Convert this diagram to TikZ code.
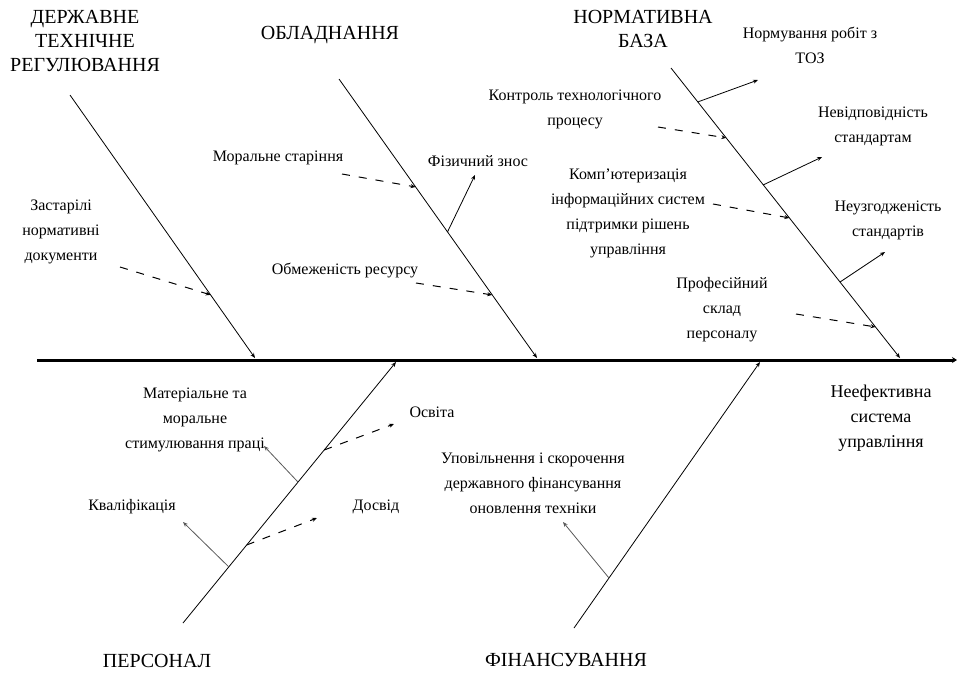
\documentclass[tikz,border=0pt]{standalone}
\usepackage{fontspec}
\setmainfont{Liberation Serif}
\usetikzlibrary{arrows.meta,calc}
\begin{document}
\begin{tikzpicture}[x=1pt,y=-1pt,
  cat/.style={font=\fontsize{20}{24}\selectfont, align=center, inner sep=0pt},
  sub/.style={font=\fontsize{16}{25}\selectfont, align=center, inner sep=0pt},
  effect/.style={font=\fontsize{18}{25}\selectfont, align=center, inner sep=0pt},
  tip/.style={-{Stealth[length=5pt,width=4pt]}},
  bone/.style={line width=0.8pt, tip},
  spine/.style={line width=3pt, -{Stealth[length=5pt,width=6pt]}},
  dasharr/.style={line width=1pt, dash pattern=on 8pt off 9pt, tip},
  solarr/.style={line width=0.8pt, tip},
  grayarr/.style={line width=0.8pt, draw=black!65, tip}]
\useasboundingbox (0,0) rectangle (957,673);

% spine
\coordinate (sL) at (37,360);
\coordinate (sR) at (957,360);
\draw[spine] (sL) -- (sR);

% bones
\coordinate (b1s) at (70,95);   \coordinate (b1e) at (255,358);
\coordinate (b2s) at (339,79);  \coordinate (b2e) at (537,358);
\coordinate (b3s) at (671,68);  \coordinate (b3e) at (900,358);
\coordinate (b4s) at (183,623); \coordinate (b4e) at (396,362);
\coordinate (b5s) at (574,628); \coordinate (b5e) at (760,362);
\draw[bone] (b1s) -- (b1e);
\draw[bone] (b2s) -- (b2e);
\draw[bone] (b3s) -- (b3e);
\draw[bone] (b4s) -- (b4e);
\draw[bone] (b5s) -- (b5e);

% category labels
\node[cat] (c1) at (85,41) {ДЕРЖАВНЕ\\ТЕХНІЧНЕ\\РЕГУЛЮВАННЯ};
\node[cat] (c2) at (330,35) {ОБЛАДНАННЯ};
\node[cat] (c3) at (643,29) {НОРМАТИВНА\\БАЗА};
\node[cat] (c4) at (157,661) {ПЕРСОНАЛ};
\node[cat] (c5) at (566,660) {ФІНАНСУВАННЯ};
\node[effect] (eff) at (881,418) {Неефективна\\система\\управління};

% sub-cause labels
\node[sub] (s1) at (61,232) {Застарілі\\нормативні\\документи};
\node[sub] (s2) at (278,158) {Моральне старіння};
\node[sub] (s3) at (478,161) {Фізичний знос};
\node[sub] (s4) at (345,270) {Обмеженість ресурсу};
\node[sub] (s5) at (810,45) {Нормування робіт з\\ТОЗ};
\node[sub] (s6) at (575,109) {Контроль технологічного\\процесу};
\node[sub] (s7) at (873,126) {Невідповідність\\стандартам};
\node[sub] (s8) at (628,213) {Комп'ютеризація\\інформаційних систем\\підтримки рішень\\управління};
\node[sub] (s9) at (888,220) {Неузгодженість\\стандартів};
\node[sub] (s10) at (722,310) {Професійний\\склад\\персоналу};
\node[sub] (s11) at (195,420) {Матеріальне та\\моральне\\стимулювання праці};
\node[sub] (s12) at (432,412) {Освіта};
\node[sub] (s13) at (376,507) {Досвід};
\node[sub] (s14) at (132,507) {Кваліфікація};
\node[sub] (s15) at (533,483) {Уповільнення і скорочення\\державного фінансування\\оновлення техніки};

% arrow free ends near labels
\coordinate (a1) at (120,267);
\coordinate (a2) at (342,174);
\coordinate (a3) at (475,175);
\coordinate (a4) at (416,283);
\coordinate (a5) at (758,80);
\coordinate (a6) at (658,127);
\coordinate (a7) at (822,157);
\coordinate (a8) at (713,204);
\coordinate (a9) at (885,252);
\coordinate (a10) at (796,314);
\coordinate (a11) at (264,446);
\coordinate (a12) at (394,424);
\coordinate (a13) at (317,518);
\coordinate (a14) at (183,522);
\coordinate (a15) at (563,522);

% sub-cause connectors
\draw[dasharr] (a1) -- ($(b1s)!0.760!(b1e)$);
\draw[dasharr] (a2) -- ($(b2s)!0.387!(b2e)$);
\draw[solarr] ($(b2s)!0.548!(b2e)$) -- (a3);
\draw[dasharr] (a4) -- ($(b2s)!0.774!(b2e)$);
\draw[solarr] ($(b3s)!0.117!(b3e)$) -- (a5);
\draw[dasharr] (a6) -- ($(b3s)!0.241!(b3e)$);
\draw[solarr] ($(b3s)!0.403!(b3e)$) -- (a7);
\draw[dasharr] (a8) -- ($(b3s)!0.517!(b3e)$);
\draw[solarr] ($(b3s)!0.738!(b3e)$) -- (a9);
\draw[dasharr] (a10) -- ($(b3s)!0.893!(b3e)$);
\draw[grayarr] ($(b4s)!0.540!(b4e)$) -- (a11);
\draw[dasharr] ($(b4s)!0.663!(b4e)$) -- (a12);
\draw[dasharr] ($(b4s)!0.299!(b4e)$) -- (a13);
\draw[grayarr] ($(b4s)!0.215!(b4e)$) -- (a14);
\draw[grayarr] ($(b5s)!0.188!(b5e)$) -- (a15);
\end{tikzpicture}
\end{document}
